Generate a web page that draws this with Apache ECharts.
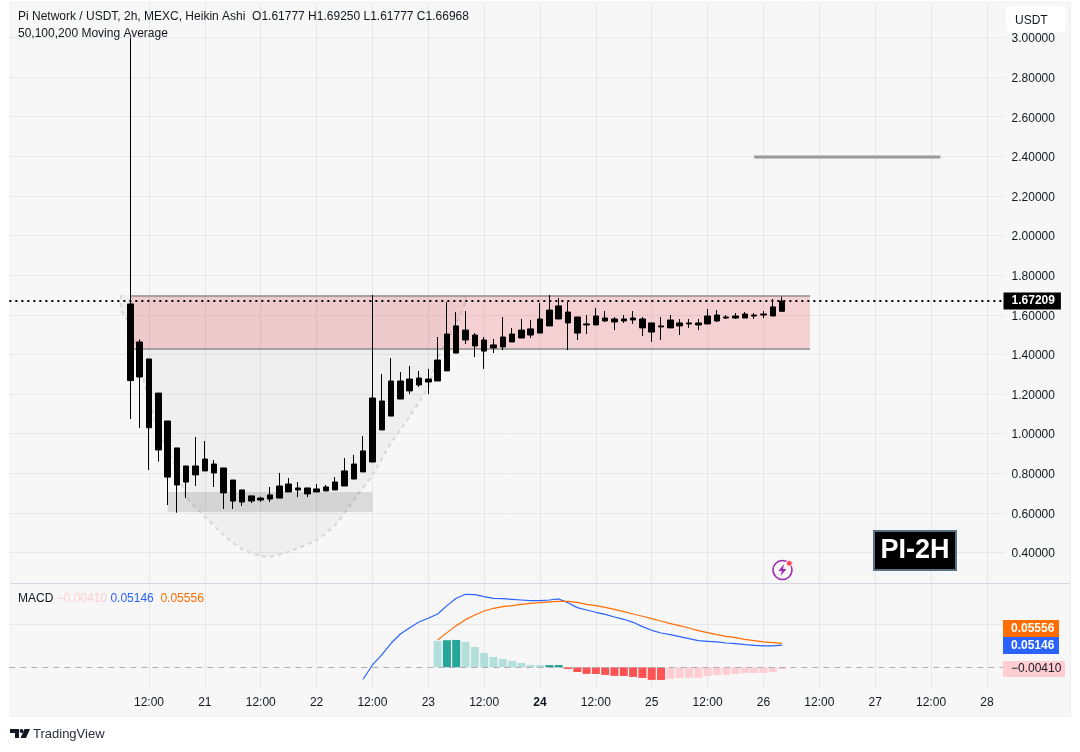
<!DOCTYPE html>
<html>
<head>
<meta charset="utf-8">
<title>PI / USDT 2h</title>
<script src="https://cdn.jsdelivr.net/npm/echarts@6/dist/echarts.min.js"></script>
<style>
html, body { margin: 0; padding: 0; background: #fff; }
#chart { width: 1080px; height: 752px; }
</style>
</head>
<body>
<div id="chart"></div>
<script>
// 2h bars, first category is Apr 19 06:00
var barCount = 108;
var firstTick = 15;   // Apr 20 12:00
var tickStep = 6;
var xTickLabels = ['12:00', '21', '12:00', '22', '12:00', '23', '12:00', '24', '12:00', '25', '12:00', '26', '12:00', '27', '12:00', '28'];
var priceTicks = [0.4, 0.6, 0.8, 1.0, 1.2, 1.4, 1.6, 1.8, 2.0, 2.2, 2.4, 2.6, 2.8, 3.0];
var macdTicks = [0.1];

// candles start at bar 13
var candleStart = 13;
var bodyHigh = [1.655, 1.463, 1.377, 1.205, 1.064, 0.928, 0.837, 0.837, 0.872, 0.847, 0.827, 0.766, 0.716, 0.686, 0.675, 0.691, 0.736, 0.746, 0.726, 0.726, 0.721, 0.731, 0.756, 0.812, 0.847, 0.913, 1.180, 1.165, 1.266, 1.266, 1.276, 1.281, 1.276, 1.372, 1.503, 1.544, 1.523, 1.498, 1.473, 1.448, 1.488, 1.503, 1.523, 1.529, 1.579, 1.624, 1.645, 1.614, 1.589, 1.554, 1.594, 1.584, 1.579, 1.579, 1.584, 1.579, 1.559, 1.544, 1.574, 1.559, 1.559, 1.559, 1.594, 1.599, 1.589, 1.594, 1.604, 1.599, 1.604, 1.640, 1.66968];
var bodyLow = [1.268, 1.286, 1.030, 0.918, 0.781, 0.741, 0.756, 0.792, 0.812, 0.802, 0.701, 0.660, 0.655, 0.660, 0.665, 0.670, 0.675, 0.706, 0.716, 0.696, 0.706, 0.711, 0.716, 0.736, 0.771, 0.807, 0.857, 1.019, 1.089, 1.175, 1.216, 1.246, 1.261, 1.266, 1.317, 1.407, 1.473, 1.443, 1.417, 1.433, 1.438, 1.463, 1.483, 1.498, 1.508, 1.544, 1.579, 1.559, 1.508, 1.549, 1.549, 1.569, 1.564, 1.569, 1.574, 1.534, 1.513, 1.539, 1.534, 1.544, 1.554, 1.549, 1.554, 1.569, 1.584, 1.584, 1.584, 1.594, 1.599, 1.594, 1.61777];
var wickHigh = [3.000, 1.476, 1.377, 1.205, 1.064, 0.928, 0.837, 0.983, 0.963, 0.867, 0.827, 0.766, 0.716, 0.686, 0.682, 0.731, 0.802, 0.776, 0.756, 0.726, 0.746, 0.741, 0.781, 0.877, 0.893, 0.988, 1.700, 1.301, 1.382, 1.311, 1.342, 1.317, 1.327, 1.488, 1.665, 1.614, 1.619, 1.508, 1.488, 1.478, 1.589, 1.534, 1.579, 1.574, 1.660, 1.700, 1.685, 1.665, 1.589, 1.599, 1.635, 1.619, 1.589, 1.599, 1.619, 1.589, 1.559, 1.589, 1.599, 1.579, 1.579, 1.579, 1.630, 1.624, 1.599, 1.609, 1.614, 1.609, 1.619, 1.680, 1.6925];
var wickLow = [1.074, 1.029, 0.817, 0.859, 0.640, 0.601, 0.675, 0.736, 0.812, 0.731, 0.620, 0.620, 0.635, 0.650, 0.656, 0.655, 0.675, 0.706, 0.680, 0.680, 0.706, 0.711, 0.716, 0.736, 0.771, 0.807, 0.857, 1.019, 1.089, 1.175, 1.200, 1.236, 1.200, 1.266, 1.317, 1.407, 1.453, 1.387, 1.327, 1.407, 1.422, 1.463, 1.483, 1.483, 1.508, 1.544, 1.579, 1.422, 1.473, 1.503, 1.549, 1.564, 1.523, 1.559, 1.554, 1.493, 1.463, 1.473, 1.534, 1.498, 1.534, 1.523, 1.554, 1.564, 1.579, 1.579, 1.584, 1.579, 1.584, 1.594, 1.61777];
var lastPrice = 1.67209;

// MACD pane
var macdStart = 38;
var macdLine = [-0.0279, 0.0054, 0.0287, 0.0558, 0.0775, 0.0922, 0.1054, 0.1139, 0.1240, 0.1434, 0.1604, 0.1697, 0.1689, 0.1643, 0.1604, 0.1596, 0.1581, 0.1565, 0.1550, 0.1550, 0.1565, 0.1589, 0.1503, 0.1387, 0.1333, 0.1279, 0.1232, 0.1170, 0.1116, 0.1046, 0.0945, 0.0860, 0.0798, 0.0759, 0.0713, 0.0666, 0.0620, 0.0604, 0.0589, 0.0565, 0.0550, 0.0527, 0.0511, 0.0496, 0.0496, 0.05146];
var signalStart = 46;
var signalLine = [0.0635, 0.0806, 0.0969, 0.1108, 0.1217, 0.1309, 0.1372, 0.1410, 0.1433, 0.1464, 0.1488, 0.1503, 0.1519, 0.1534, 0.1534, 0.1511, 0.1464, 0.1433, 0.1395, 0.1348, 0.1294, 0.1240, 0.1186, 0.1131, 0.1077, 0.1015, 0.0969, 0.0914, 0.0852, 0.0806, 0.0759, 0.0720, 0.0689, 0.0651, 0.0620, 0.0589, 0.0573, 0.05556];
var histStart = 46;
var histValues = [0.0612, 0.0630, 0.0636, 0.0589, 0.0473, 0.0333, 0.0240, 0.0194, 0.0147, 0.0101, 0.0054, 0.0050, 0.0052, 0.0054, -0.0039, -0.0109, -0.0153, -0.0155, -0.0178, -0.0200, -0.0202, -0.0225, -0.0248, -0.0293, -0.0295, -0.0271, -0.0250, -0.0248, -0.0246, -0.0202, -0.0180, -0.0178, -0.0155, -0.0134, -0.0132, -0.0130, -0.0109, -0.0041];

// drawings on the price pane
var cupBars = [11.9, 12.4, 13.0, 14.0, 15.1, 16.2, 17.8, 19.2, 21.0, 23.0, 25.1, 27.1, 28.4, 30.3, 32.6, 34.6, 36.8, 39.1, 41.2, 43.0, 44.8, 46.1, 47.7, 48.8, 49.3];
var cupPrices = [1.700, 1.624, 1.549, 1.347, 1.170, 1.019, 0.817, 0.682, 0.581, 0.489, 0.416, 0.383, 0.379, 0.404, 0.463, 0.539, 0.665, 0.791, 0.953, 1.086, 1.237, 1.381, 1.559, 1.666, 1.700];
var zoneBars = [13, 86];
var zonePrices = [1.695, 1.4275];
var baseBars = [17, 39];
var basePrices = [0.7057, 0.6047];
var targetBars = [80, 100];
var targetPrice = 2.397;

var FONT = '"Liberation Sans", Arial, sans-serif';
var categories = [];
for (var i = 0; i < barCount; i++) {
    categories.push('bar' + i);
}

function isTick(index) {
    return index >= firstTick && (index - firstTick) % tickStep == 0;
}

function tickLabel(value, index) {
    var text = xTickLabels[(index - firstTick) / tickStep];
    if (text == '24') {
        return '{bold|24}';
    }
    return text || '';
}

// leading and trailing bars stay empty
function pad(values, start) {
    var out = [];
    for (var i = 0; i < barCount; i++) {
        var v = values[i - start];
        out.push(v === undefined ? '-' : v);
    }
    return out;
}

var candleData = [];
for (var k = 0; k < bodyHigh.length; k++) {
    candleData.push([bodyLow[k], bodyHigh[k], wickLow[k], wickHigh[k]]);
}

function histColor(params) {
    var idx = params.dataIndex - histStart;
    var v = histValues[idx];
    var prev = histValues[idx - 1];
    if (v >= 0) {
        return prev !== undefined && v > prev ? '#26a69a' : '#b2dfdb';
    }
    return v < prev ? '#ff5252' : '#ffcdd2';
}

function renderDrawings(params, api) {
    var cup = [];
    for (var i = 0; i < cupBars.length; i++) {
        cup.push(api.coord([cupBars[i], cupPrices[i]]));
    }
    var zoneA = api.coord([zoneBars[0], zonePrices[0]]);
    var zoneB = api.coord([zoneBars[1], zonePrices[1]]);
    var baseA = api.coord([baseBars[0], basePrices[0]]);
    var baseB = api.coord([baseBars[1], basePrices[1]]);
    var targetA = api.coord([targetBars[0], targetPrice]);
    var targetB = api.coord([targetBars[1], targetPrice]);
    var zoneLine = {stroke: '#8d8d8d', lineWidth: 1.5};
    return {
        type: 'group',
        children: [
            {type: 'polygon', shape: {points: cup}, style: {fill: 'rgba(0,0,0,0.03)'}},
            {type: 'polyline', shape: {points: cup, smooth: 0.2}, style: {fill: 'none', stroke: '#d6d6d6', lineWidth: 2, lineDash: [4, 4]}},
            {type: 'rect', shape: {x: zoneA[0], y: zoneA[1], width: zoneB[0] - zoneA[0], height: zoneB[1] - zoneA[1]}, style: {fill: 'rgba(242,54,69,0.2)'}},
            {type: 'line', shape: {x1: zoneA[0], y1: zoneA[1], x2: zoneB[0], y2: zoneA[1]}, style: zoneLine},
            {type: 'line', shape: {x1: zoneA[0], y1: zoneB[1], x2: zoneB[0], y2: zoneB[1]}, style: zoneLine},
            {type: 'rect', shape: {x: baseA[0], y: baseA[1], width: baseB[0] - baseA[0], height: baseB[1] - baseA[1]}, style: {fill: 'rgba(0,0,0,0.11)'}},
            {type: 'line', shape: {x1: targetA[0], y1: targetA[1], x2: targetB[0], y2: targetB[1]}, style: {stroke: '#9a9a9a', lineWidth: 3}}
        ]
    };
}

var xAxisBase = {
    type: 'category',
    data: categories,
    boundaryGap: false,
    axisLine: {show: false},
    axisTick: {show: false},
    splitLine: {show: true, interval: function (index) { return isTick(index); }, lineStyle: {color: '#e6e6e6', width: 1}}
};

var yAxisBase = {
    type: 'value',
    position: 'right',
    axisLine: {show: false},
    splitLine: {show: true, lineStyle: {color: '#e8e8e8', width: 1}},
    axisLabel: {
        margin: 6,
        formatter: function (v) { return '{v|' + v.toFixed(5) + '}'; },
        rich: {v: {color: '#131722', fontFamily: FONT, fontSize: 12, padding: [3, 0, 0, 0]}}
    }
};

function yAxisWith(min, max, ticks) {
    var axis = echarts.util.clone(yAxisBase);
    axis.axisLabel.formatter = yAxisBase.axisLabel.formatter;
    axis.min = min;
    axis.max = max;
    axis.axisTick = {show: false, customValues: ticks};
    axis.axisLabel.customValues = ticks;
    return axis;
}

var chart = echarts.init(document.getElementById('chart'));
var option = {
    animation: false,
    textStyle: {fontFamily: FONT},
    title: [
        {left: 18, top: 11, padding: 0, text: 'Pi Network / USDT, 2h, MEXC, Heikin Ashi  O1.61777 H1.69250 L1.61777 C1.66968', textStyle: {fontFamily: FONT, fontSize: 12, fontWeight: 'normal', color: '#131722'}},
        {left: 18, top: 28, padding: 0, text: '50,100,200 Moving Average', textStyle: {fontFamily: FONT, fontSize: 12, fontWeight: 'normal', color: '#131722'}},
        {left: 18, top: 593, padding: 0, text: 'MACD {h|\u22120.00410} {m|0.05146}  {s|0.05556}', textStyle: {fontFamily: FONT, fontSize: 12, fontWeight: 'normal', color: '#131722', rich: {
            h: {color: '#ffcdd2', fontFamily: FONT, fontSize: 12},
            m: {color: '#2962ff', fontFamily: FONT, fontSize: 12},
            s: {color: '#ff6d00', fontFamily: FONT, fontSize: 12}
        }}}
    ],
    grid: [
        {left: 9.35, top: 3, width: 996.17, height: 580},
        {left: 9.35, top: 584, width: 996.17, height: 105}
    ],
    xAxis: [
        echarts.util.merge({gridIndex: 0, axisLabel: {show: false}}, xAxisBase),
        echarts.util.merge({
            gridIndex: 1,
            axisLabel: {
                show: true,
                color: '#131722',
                fontFamily: FONT,
                fontSize: 12,
                margin: 8,
                interval: function (index) { return isTick(index); },
                formatter: tickLabel,
                rich: {bold: {fontWeight: 'bold', fontFamily: FONT, fontSize: 12, color: '#131722'}}
            }
        }, xAxisBase)
    ],
    yAxis: [
        echarts.util.merge({gridIndex: 0}, yAxisWith(0.2463, 3.174, priceTicks)),
        echarts.util.merge({gridIndex: 1}, yAxisWith(-0.0505, 0.1937, macdTicks))
    ],
    series: [
        {
            type: 'custom',
            name: 'drawings',
            silent: true,
            z: 1,
            xAxisIndex: 0,
            yAxisIndex: 0,
            data: [[0, 1]],
            renderItem: renderDrawings
        },
        {
            type: 'candlestick',
            name: 'PI/USDT',
            z: 3,
            xAxisIndex: 0,
            yAxisIndex: 0,
            barWidth: 6,
            data: pad(candleData, candleStart),
            itemStyle: {color: '#000', color0: '#000', borderColor: '#000', borderColor0: '#000', borderWidth: 1},
            markLine: {
                silent: true,
                symbol: 'none',
                animation: false,
                data: [{yAxis: lastPrice}],
                lineStyle: {color: '#000', type: [2, 4], width: 2},
                label: {
                    position: 'end',
                    distance: -2,
                    formatter: lastPrice.toFixed(5),
                    color: '#fff',
                    backgroundColor: '#000',
                    fontFamily: FONT,
                    fontWeight: 'bold',
                    fontSize: 12,
                    padding: [3, 6, 2, 8]
                }
            }
        },
        {
            type: 'bar',
            name: 'Histogram',
            xAxisIndex: 1,
            yAxisIndex: 1,
            barWidth: 8,
            data: pad(histValues, histStart),
            itemStyle: {color: histColor},
            markLine: {
                silent: true,
                symbol: 'none',
                animation: false,
                data: [{yAxis: 0}],
                label: {show: false},
                lineStyle: {color: '#aeaeae', type: [6, 5], width: 1}
            }
        },
        {
            type: 'line',
            name: 'MACD',
            xAxisIndex: 1,
            yAxisIndex: 1,
            showSymbol: false,
            data: pad(macdLine, macdStart),
            lineStyle: {color: '#2962ff', width: 1.2}
        },
        {
            type: 'line',
            name: 'Signal',
            xAxisIndex: 1,
            yAxisIndex: 1,
            showSymbol: false,
            data: pad(signalLine, signalStart),
            lineStyle: {color: '#ff6d00', width: 1.2}
        }
    ],
    graphic: [
        // pane background and separator
        {type: 'rect', z: -10, shape: {x: 10, y: 2, width: 1060.5, height: 714.5}, style: {fill: '#f7f7f7', stroke: '#efefef', lineWidth: 1}},
        {type: 'line', z: -5, shape: {x1: 10, y1: 583.5, x2: 1070, y2: 583.5}, style: {stroke: '#d8d6e0', lineWidth: 1}},
        // currency button
        {type: 'rect', z: 100, shape: {x: 1006, y: 6, width: 60, height: 26, r: 4}, style: {fill: '#fff'}},
        {type: 'text', z: 101, x: 1015, y: 15, style: {text: 'USDT', fill: '#131722', font: '12px ' + FONT}},
        // MACD tags
        {type: 'rect', z: 100, shape: {x: 1003, y: 620, width: 56, height: 17}, style: {fill: '#ff6d00'}},
        {type: 'text', z: 101, x: 1011, y: 622.5, style: {text: '0.05556', fill: '#fff', font: 'bold 12px ' + FONT}},
        {type: 'rect', z: 100, shape: {x: 1003, y: 637, width: 56, height: 17}, style: {fill: '#2962ff'}},
        {type: 'text', z: 101, x: 1011, y: 639.5, style: {text: '0.05146', fill: '#fff', font: 'bold 12px ' + FONT}},
        {type: 'rect', z: 100, shape: {x: 1003, y: 661, width: 62, height: 16, r: 1}, style: {fill: '#ffcdd2'}},
        {type: 'text', z: 101, x: 1011, y: 663, style: {text: '\u22120.00410', fill: '#131722', font: '12px ' + FONT}},
        // PI-2H box
        {type: 'rect', z: 100, shape: {x: 874, y: 531, width: 82, height: 39}, style: {fill: '#000', stroke: '#5a7184', lineWidth: 2}},
        {type: 'text', z: 101, x: 915, y: 550.5, style: {text: 'PI-2H', fill: '#fff', font: 'bold 27px ' + FONT, align: 'center', verticalAlign: 'middle'}},
        // alert icon
        {type: 'circle', z: 100, shape: {cx: 782.5, cy: 570, r: 9.5}, style: {fill: 'none', stroke: '#9c27b0', lineWidth: 1.6}},
        {type: 'polygon', z: 101, shape: {points: [[784, 564], [778.5, 571], [782, 571], [780.5, 576], [786.5, 569], [783, 569]]}, style: {fill: '#9c27b0'}},
        {type: 'circle', z: 102, shape: {cx: 789.3, cy: 563.3, r: 3}, style: {fill: '#ff4757', stroke: '#f7f7f7', lineWidth: 1}},
        // TradingView mark
        {type: 'rect', z: 100, shape: {x: 10, y: 729, width: 9, height: 4}, style: {fill: '#131722'}},
        {type: 'rect', z: 100, shape: {x: 15, y: 729, width: 4, height: 9}, style: {fill: '#131722'}},
        {type: 'circle', z: 100, shape: {cx: 21.5, cy: 731, r: 1.9}, style: {fill: '#131722'}},
        {type: 'polygon', z: 100, shape: {points: [[24.5, 729], [30, 729], [26, 738], [20.5, 738]]}, style: {fill: '#131722'}},
        {type: 'text', z: 100, x: 33, y: 728, style: {text: 'TradingView', fill: '#2a2e39', font: '13px ' + FONT}}
    ]
};
chart.setOption(option);
</script>
</body>
</html>
